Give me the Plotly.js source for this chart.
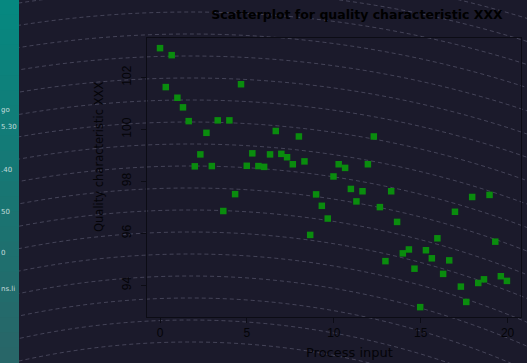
<!DOCTYPE html>
<html>
<head>
<meta charset="utf-8">
<script src="https://cdn.plot.ly/plotly-3.0.1.min.js"></script>
<style>
  html, body { margin: 0; padding: 0; background: #1b1a2b; }
  #chart { width: 527px; height: 363px; }
</style>
</head>
<body>
<div id="chart"></div>
<script>
// ---- data ----
const processInput = [
  0.00, 0.67, 0.33, 1.00, 1.32, 1.65, 2.67, 3.32, 3.99, 4.66,
  2.32, 2.00, 2.98, 4.99, 5.31, 5.66, 5.99, 6.33, 6.66, 6.98,
  7.31, 7.64, 7.99, 8.31, 10.28, 9.98, 12.30, 10.65, 11.96, 4.32,
  3.64, 8.98, 9.31, 9.65, 8.64, 10.98, 11.65, 11.30, 13.30, 12.65,
  13.64, 17.96, 18.96, 16.97, 15.96, 19.29, 14.32, 13.97, 15.30, 15.64,
  16.64, 12.97, 14.64, 16.29, 18.64, 18.31, 19.61, 19.96, 17.31, 17.62,
  14.97
];
const qualityValues = [
  103.13, 102.86, 101.63, 101.22, 100.85, 100.32, 99.87, 100.35, 100.35, 101.74,
  99.04, 98.58, 98.59, 98.60, 99.08, 98.59, 98.56, 99.04, 99.94, 99.06,
  98.93, 98.66, 99.73, 98.77, 98.66, 98.19, 99.73, 98.52, 98.66, 97.51,
  96.86, 97.50, 97.06, 96.57, 95.94, 97.71, 97.62, 97.23, 97.62, 97.01,
  96.44, 97.40, 97.48, 96.83, 95.81, 95.68, 95.38, 95.23, 95.35, 95.04,
  94.96, 94.93, 94.64, 94.44, 94.23, 94.09, 94.35, 94.17, 93.95, 93.36,
  93.16
];
const xTicks = [0, 5, 10, 15, 20];
const yTicks = [94, 96, 98, 100, 102];
const chartTitle = 'Scatterplot for quality characteristic XXX';
const xTitle = 'Process input';
const yTitle = 'Quality characteristic XXX';
const sidebarFragments = ['go', '5.30', '.40', '50', '0', 'ns.li'];

// ---- layout geometry ----
const W = 527, H = 363, ML = 147, MR = 6, MT = 38, MB = 46;
const PW = W - ML - MR, PH = H - MT - MB;
const px2x = p => (p - ML) / PW;
const py2y = p => (H - MB - p) / PH;

const shapes = [];
// decorative concentric dashed arcs of the page background
const cx = 190, cy = 1120;
for (let apex = -54; apex <= 366; apex += 22) {
  const r = cy - apex;
  shapes.push({
    type: 'circle', xref: 'paper', yref: 'paper', layer: 'below',
    x0: px2x(cx - r), x1: px2x(cx + r),
    y0: py2y(cy + r), y1: py2y(cy - r),
    line: { color: 'rgba(150,150,175,0.34)', width: 1, dash: '4px,3px' },
    fillcolor: 'rgba(0,0,0,0)'
  });
}
// teal side strip (vertical gradient built from slices)
const slices = 24;
for (let i = 0; i < slices; i++) {
  const t = i / (slices - 1);
  const c = [Math.round(6 + 34 * t), Math.round(136 - 34 * t), Math.round(128 - 24 * t)];
  shapes.push({
    type: 'rect', xref: 'paper', yref: 'paper', layer: 'below',
    x0: px2x(0), x1: px2x(19),
    y0: py2y(H * (i + 1) / slices + 0.5), y1: py2y(H * i / slices - 0.5),
    line: { width: 0 }, fillcolor: `rgb(${c[0]},${c[1]},${c[2]})`
  });
}

const fragY = [110, 127, 170, 212, 253, 289];
const annotations = sidebarFragments.map((t, i) => ({
  text: t, xref: 'paper', yref: 'paper', x: px2x(-1), y: py2y(fragY[i]),
  xanchor: 'left', yanchor: 'middle', showarrow: false,
  font: { family: 'DejaVu Sans', size: 7, color: 'rgba(235,245,245,0.8)' }
}));
annotations.push({
  text: xTitle, xref: 'paper', yref: 'paper', x: px2x(349), y: py2y(353),
  xanchor: 'center', yanchor: 'middle', showarrow: false,
  font: { family: 'DejaVu Sans', size: 13, color: '#040408' }
});
annotations.push({
  text: yTitle, xref: 'paper', yref: 'paper', x: px2x(99), y: py2y(157),
  xanchor: 'center', yanchor: 'middle', showarrow: false, textangle: -90,
  font: { family: 'DejaVu Sans', size: 11.5, color: '#040408' }
});

const axisCommon = {
  showgrid: false, zeroline: false, showline: true, mirror: true,
  linecolor: '#0c0c15', linewidth: 1,
  ticks: 'outside', ticklen: 5, tickwidth: 1, tickcolor: '#0c0c15',
  tickfont: { family: 'Liberation Sans', size: 12, color: '#040408' }
};

const trace = {
  type: 'scatter', mode: 'markers',
  x: processInput, y: qualityValues,
  marker: { symbol: 'square', size: 6.5, color: '#0a8c0e', line: { width: 0 } },
  hoverinfo: 'x+y'
};

const layout = {
  width: W, height: H,
  margin: { l: ML, r: MR, t: MT, b: MB, pad: 0 },
  paper_bgcolor: '#1b1a2b', plot_bgcolor: 'rgba(0,0,0,0)',
  showlegend: false,
  title: {
    text: '<b>' + chartTitle + '</b>',
    font: { family: 'DejaVu Sans', size: 12.5, color: '#000000' },
    xref: 'paper', x: px2x(357), xanchor: 'center',
    yref: 'container', y: 1 - 15 / H, yanchor: 'middle'
  },
  xaxis: Object.assign({}, axisCommon, { range: [-0.75, 20.77], tickvals: xTicks }),
  yaxis: Object.assign({}, axisCommon, { range: [92.78, 103.52], tickvals: yTicks, tickangle: -90, ticklabelstandoff: 5 }),
  shapes: shapes,
  annotations: annotations
};

Plotly.newPlot('chart', [trace], layout, { displayModeBar: false, staticPlot: true });
</script>
</body>
</html>
